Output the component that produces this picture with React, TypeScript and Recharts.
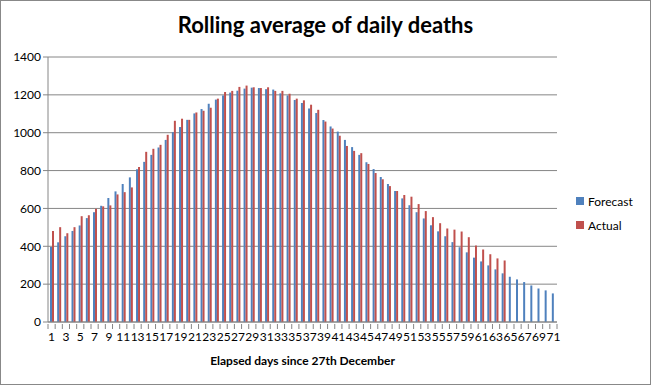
import React from "react";
import {
  BarChart,
  Bar,
  XAxis,
  YAxis,
  CartesianGrid,
  Legend,
  Label,
} from "recharts";

// elapsed days since 27th December
const days = [
  1, 2, 3, 4, 5, 6, 7, 8, 9, 10, 11, 12, 13, 14, 15, 16, 17, 18, 19, 20, 21,
  22, 23, 24, 25, 26, 27, 28, 29, 30, 31, 32, 33, 34, 35, 36, 37, 38, 39, 40,
  41, 42, 43, 44, 45, 46, 47, 48, 49, 50, 51, 52, 53, 54, 55, 56, 57, 58, 59,
  60, 61, 62, 63, 64, 65, 66, 67, 68, 69, 70, 71,
];

const forecast = [
  396, 421, 453, 481, 510, 549, 580, 614, 655, 690, 729, 764, 807, 846, 883,
  922, 962, 1003, 1030, 1068, 1102, 1125, 1153, 1175, 1197, 1212, 1222, 1233,
  1238, 1236, 1230, 1228, 1208, 1197, 1173, 1157, 1128, 1104, 1067, 1033,
  1006, 962, 924, 883, 844, 808, 766, 729, 692, 653, 617, 580, 547, 511, 479,
  453, 422, 395, 368, 340, 320, 299, 278, 257, 239, 225, 211, 193, 177, 167,
  151,
];

const actual = [
  481, 501, 469, 501, 559, 564, 598, 611, 616, 674, 686, 711, 819, 899, 915,
  936, 989, 1063, 1074, 1068, 1107, 1116, 1132, 1180, 1215, 1221, 1242, 1249,
  1240, 1236, 1240, 1221, 1221, 1206, 1180, 1171, 1148, 1121, 1059, 1022, 984,
  930, 904, 892, 835, 787, 754, 718, 692, 671, 662, 623, 586, 554, 522, 494,
  488, 478, 448, 404, 383, 358, 336, 325,
];

const yTicks = [0, 200, 400, 600, 800, 1000, 1200, 1400];

const data = days.map((d, i) => ({
  day: d,
  forecast: forecast[i],
  actual: i < actual.length ? actual[i] : null,
}));

const FONT = "Lato, 'Open Sans', sans-serif";
const BLUE = "#4F81BD";
const RED = "#C0504D";
const GRID = "#868686";

const DayTick = (props: any) => {
  const { x, y, payload, index } = props;
  const half = payload?.offset || 3.57;
  return (
    <g>
      {index === 0 && (
        <line x1={x - half} y1={y - 6} x2={x - half} y2={y - 1} stroke={GRID} />
      )}
      <line x1={x + half} y1={y - 6} x2={x + half} y2={y - 1} stroke={GRID} />
      {index % 2 === 0 && (
        <text
          x={x}
          y={y + 11}
          textAnchor="middle"
          fontSize={12}
          fontFamily={FONT}
          fill="#000"
        >
          {payload.value}
        </text>
      )}
    </g>
  );
};

const LegendBox = () => (
  <div style={{ fontFamily: FONT, fontSize: 12, color: "#000" }}>
    {[
      { name: "Forecast", color: BLUE },
      { name: "Actual", color: RED },
    ].map((item) => (
      <div
        key={item.name}
        style={{ display: "flex", alignItems: "center", height: 24 }}
      >
        <span
          style={{
            width: 8,
            height: 8,
            background: item.color,
            marginRight: 4,
            display: "inline-block",
          }}
        />
        {item.name}
      </div>
    ))}
  </div>
);

export default function App() {
  return (
    <div
      style={{
        position: "absolute",
        left: 0,
        top: 0,
        width: 651,
        height: 385,
        boxSizing: "border-box",
        border: "1px solid #888",
        background: "#fff",
      }}
    >
      <div
        style={{
          position: "absolute",
          left: 0,
          right: 0,
          top: 10,
          textAlign: "center",
          fontFamily: FONT,
          fontWeight: 700,
          fontSize: 22,
          color: "#000",
        }}
      >
        Rolling average of daily deaths
      </div>
      <BarChart
        width={649}
        height={383}
        data={data}
        margin={{ top: 56, right: 13, left: -1, bottom: 12 }}
        barGap={0}
        barSize={2}
      >
        <CartesianGrid
          vertical={false}
          stroke={GRID}
          horizontalValues={yTicks}
        />
        <XAxis
          dataKey="day"
          interval={0}
          tickLine={false}
          axisLine={{ stroke: GRID }}
          tick={<DayTick />}
          height={50}
        >
          <Label
            value="Elapsed days since 27th December"
            position="insideBottom"
            offset={7}
            style={{
              fontFamily: FONT,
              fontWeight: 700,
              fontSize: 12,
              fill: "#000",
            }}
          />
        </XAxis>
        <YAxis
          width={48}
          domain={[0, 1400]}
          ticks={yTicks}
          interval={0}
          tickSize={5}
          tickLine={{ stroke: GRID }}
          axisLine={{ stroke: GRID }}
          tick={{ fontFamily: FONT, fontSize: 12, fill: "#000" }}
        />
        <Legend
          layout="vertical"
          align="right"
          verticalAlign="middle"
          content={<LegendBox />}
          wrapperStyle={{ width: 80, top: 188, left: 575 }}
        />
        <Bar
          dataKey="forecast"
          name="Forecast"
          fill={BLUE}
          isAnimationActive={false}
        />
        <Bar
          dataKey="actual"
          name="Actual"
          fill={RED}
          isAnimationActive={false}
        />
      </BarChart>
    </div>
  );
}
